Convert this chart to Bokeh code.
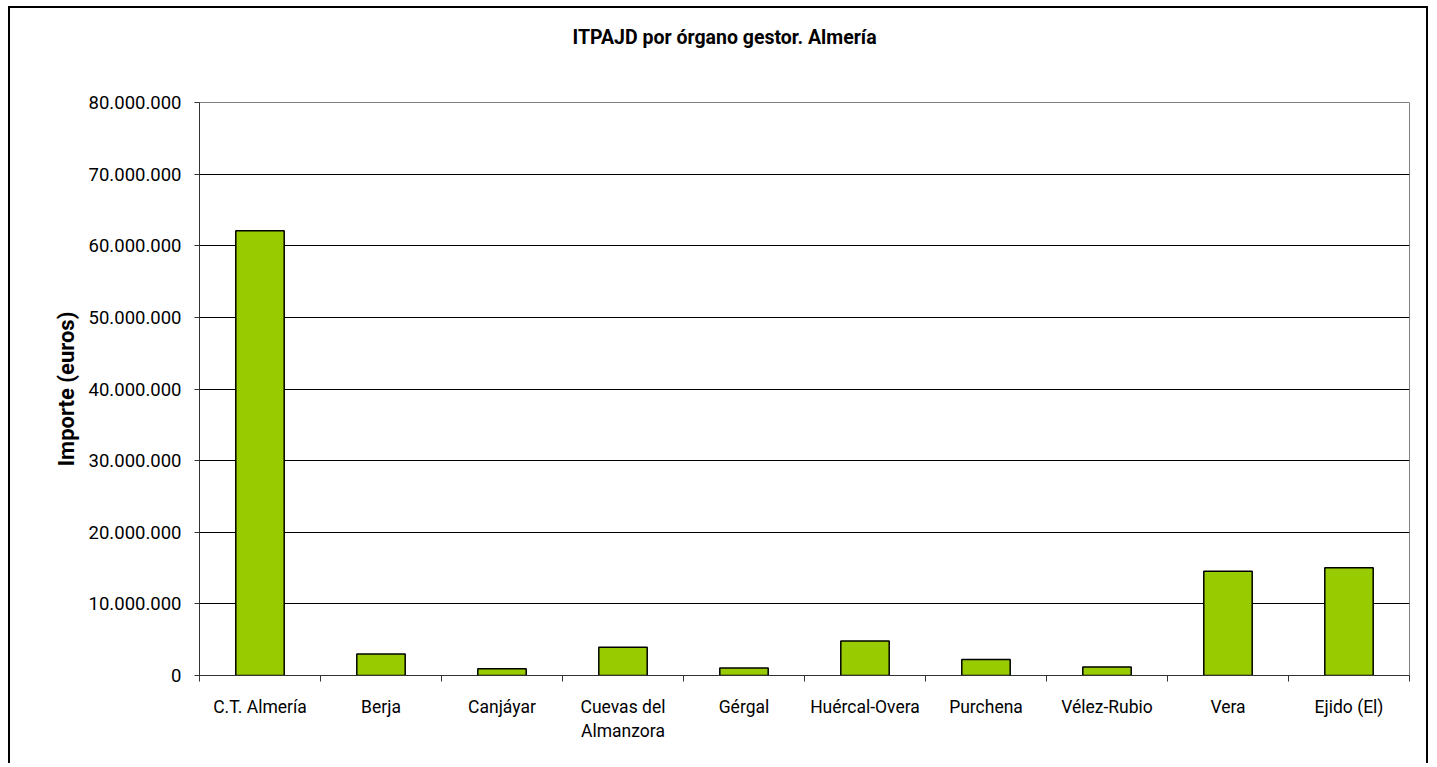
from bokeh.plotting import figure
from bokeh.models import Range1d, FixedTicker, Title
from bokeh.embed import file_html
from bokeh.resources import INLINE

categories = ["C.T. Almería", "Berja", "Canjáyar", "Cuevas del Almanzora", "Gérgal",
              "Huércal-Overa", "Purchena", "Vélez-Rubio", "Vera", "Ejido (El)"]
x_tick_labels = ["C.T. Almería", "Berja", "Canjáyar", "Cuevas del\nAlmanzora", "Gérgal",
                 "Huércal-Overa", "Purchena", "Vélez-Rubio", "Vera", "Ejido (El)"]
values = [62100000, 3000000, 950000, 3950000, 1050000, 4800000, 2250000, 1200000, 14550000, 15050000]
y_tick_values = [0, 10000000, 20000000, 30000000, 40000000, 50000000, 60000000, 70000000, 80000000]
y_tick_labels = ["0", "10.000.000", "20.000.000", "30.000.000", "40.000.000", "50.000.000",
                 "60.000.000", "70.000.000", "80.000.000"]
title_text = "ITPAJD por órgano gestor. Almería"
y_label = "Importe (euros)"

FONT = "Roboto"
n = len(categories)
centers = [i + 0.5 for i in range(n)]
bounds = [float(i) for i in range(n + 1)]

p = figure(width=1420, height=757, output_backend="svg", toolbar_location=None,
           x_range=Range1d(0, n), y_range=Range1d(0, y_tick_values[-1]),
           min_border_left=189, min_border_right=21, min_border_top=94, min_border_bottom=90)
p.styles = {"border-left": "2px solid black", "border-right": "2px solid black",
            "border-top": "2px solid black", "margin-left": "8px", "margin-top": "6px"}
p.background_fill_color = "white"
p.border_fill_color = "white"
p.outline_line_color = "#808080"
p.outline_line_width = 1

p.vbar(x=centers, top=values, width=0.4, bottom=0, fill_color="#99CC00",
       line_color="black", line_width=1.5)

# spacer panel next to the frame (white on white), then the title as outermost panel
p.add_layout(Title(text="x", text_font_size="10px", text_color="white", standoff=23), "above")
p.add_layout(Title(text=title_text, align="left", offset=373, vertical_align="top",
                   standoff=32, text_font=FONT, text_font_size="19.5px",
                   text_font_style="bold", text_color="black"), "above")

# x axis
xa = p.xaxis[0]
xa.ticker = FixedTicker(ticks=centers, minor_ticks=bounds)
xa.major_label_overrides = {c: l for c, l in zip(centers, x_tick_labels)}
xa.major_tick_line_color = None
xa.minor_tick_out = 6
xa.minor_tick_in = 0
xa.minor_tick_line_color = "#333333"
xa.axis_line_color = "#333333"
xa.major_label_text_font = FONT
xa.major_label_text_font_size = "17.5px"
xa.major_label_text_color = "black"
xa.major_label_standoff = 15

# y axis
ya = p.yaxis[0]
ya.ticker = FixedTicker(ticks=y_tick_values)
ya.major_label_overrides = {v: l for v, l in zip(y_tick_values, y_tick_labels)}
ya.major_tick_out = 5
ya.major_tick_in = 0
ya.minor_tick_line_color = None
ya.major_tick_line_color = "#333333"
ya.axis_line_color = "#333333"
ya.major_label_text_font = FONT
ya.major_label_text_font_size = "18.5px"
ya.major_label_text_color = "black"
ya.major_label_standoff = 13
ya.axis_label = y_label
ya.axis_label_text_font = FONT
ya.axis_label_text_font_size = "22px"
ya.axis_label_text_font_style = "bold"
ya.axis_label_text_color = "black"
ya.axis_label_standoff = 7

p.xgrid.grid_line_color = None
p.ygrid.ticker = FixedTicker(ticks=y_tick_values[1:-1])
p.ygrid.grid_line_color = "black"
p.ygrid.grid_line_width = 1

open("out.html", "w").write(file_html(p, INLINE))
